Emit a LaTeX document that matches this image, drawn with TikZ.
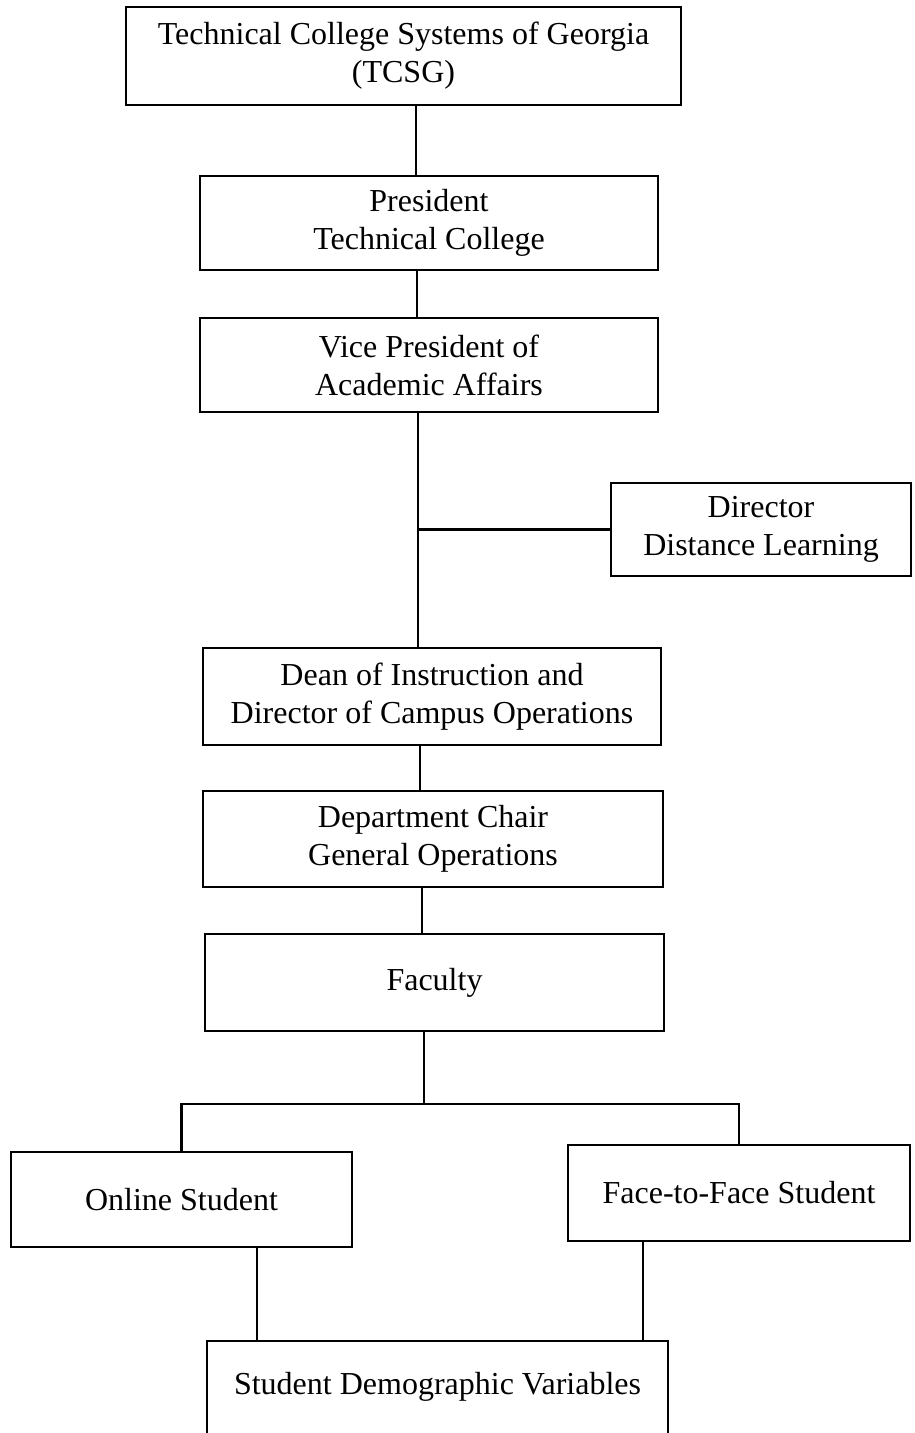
\documentclass[tikz,border=0pt]{standalone}
\usepackage{fontspec}
\setmainfont{Liberation Serif}
\begin{document}
\begin{tikzpicture}[x=1pt,y=-1pt,
  box/.style={draw, line width=2.3pt, rectangle, align=center, inner sep=0pt,
    font=\fontsize{32}{38}\selectfont},
  openbox/.style={rectangle, align=center, inner sep=0pt,
    font=\fontsize{32}{38}\selectfont},
  conn/.style={line width=2.3pt}]
\useasboundingbox (0,0) rectangle (914,1433);
\node[box, minimum width=555, minimum height=98] (tcsg) at (403.5,56)
  {Technical College Systems of Georgia\\(TCSG)};
\node[box, minimum width=458, minimum height=94] (pres) at (429,223)
  {President\\Technical College};
\node[box, minimum width=458, minimum height=94] (vp) at (429,365)
  {Vice President of\\Academic Affairs};
\node[box, minimum width=300, minimum height=93] (dir) at (761,529.5)
  {Director\\Distance Learning};
\node[box, minimum width=458, minimum height=97] (dean) at (432,696.5)
  {Dean of Instruction and\\Director of Campus Operations};
\node[box, minimum width=460, minimum height=96] (dept) at (433,839)
  {Department Chair\\General Operations};
\node[box, minimum width=459, minimum height=97] (fac) at (434.5,982.5)
  {Faculty};
\node[box, minimum width=341, minimum height=95] (online) at (181.5,1199.5)
  {Online Student};
\node[box, minimum width=342, minimum height=96] (f2f) at (739,1193)
  {Face-to-Face Student};
\node[openbox, minimum width=461, minimum height=92] (sdv) at (437.5,1387)
  {Student Demographic Variables};
\draw[conn] (sdv.south west) -- (sdv.north west) -- (sdv.north east) -- (sdv.south east);
\coordinate (l1) at (416,0);
\coordinate (l2) at (417,0);
\coordinate (l3) at (418,0);
\coordinate (l4) at (420,0);
\coordinate (l5) at (422,0);
\coordinate (j) at (424,1104);
\coordinate (l7) at (257,0);
\coordinate (l8) at (643,0);
\draw[conn] (tcsg.south -| l1) -- (pres.north -| l1);
\draw[conn] (pres.south -| l2) -- (vp.north -| l2);
\draw[conn] (vp.south -| l3) -- (dean.north -| l3);
\draw[conn] (dir.west -| l3) -- (dir.west);
\draw[conn] (dean.south -| l4) -- (dept.north -| l4);
\draw[conn] (dept.south -| l5) -- (fac.north -| l5);
\draw[conn] (fac.south -| j) -- (j);
\draw[conn] (online.north) |- (j) -| (f2f.north);
\draw[conn] (online.south -| l7) -- (sdv.north -| l7);
\draw[conn] (f2f.south -| l8) -- (sdv.north -| l8);
\end{tikzpicture}
\end{document}
